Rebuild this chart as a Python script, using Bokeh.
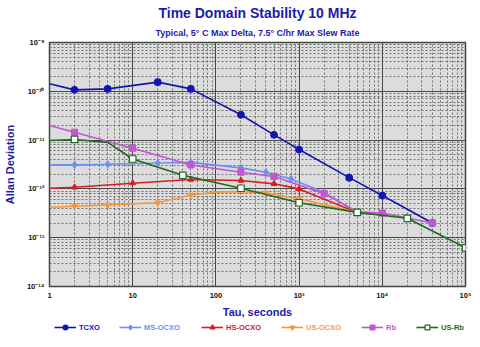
from bokeh.plotting import figure
from bokeh.layouts import column
from bokeh.models import (Range1d, Title, Legend, LegendItem, CustomJSTickFormatter, LogTicker)
from bokeh.embed import file_html
from bokeh.resources import INLINE

# ---- data ----
tcxo_tau = [1, 2, 5, 20, 50, 200, 500, 1000, 4000, 10000, 40000]
tcxo_adev = [1.43e-10, 1.07e-10, 1.12e-10, 1.54e-10, 1.12e-10, 3.3e-11, 1.28e-11, 6.4e-12, 1.7e-12, 7.3e-13, 2.0e-13]
tcxo_marked = [1, 2, 3, 4, 5, 6, 7, 8, 9, 10]

ms_tau = [1, 2, 5, 20, 50, 200, 400, 800, 2000, 5000]
ms_adev = [3.1e-12, 3.1e-12, 3.2e-12, 3.4e-12, 3.5e-12, 2.7e-12, 2.2e-12, 1.6e-12, 8.5e-13, 3.3e-13]
ms_marked = [1, 2, 3, 4, 5, 6, 7, 8]

hs_tau = [1, 2, 10, 50, 200, 500, 1000, 5000]
hs_adev = [1.03e-12, 1.08e-12, 1.31e-12, 1.56e-12, 1.49e-12, 1.27e-12, 1.0e-12, 3.3e-13]
hs_marked = [1, 2, 3, 4, 5, 6]

us_tau = [1, 2, 5, 20, 50, 100, 200, 400, 1000, 5000]
us_adev = [4.2e-13, 4.4e-13, 4.7e-13, 5.2e-13, 7.5e-13, 8.6e-13, 8.8e-13, 8.3e-13, 6.3e-13, 3.3e-13]
us_marked = [1, 2, 3, 4, 7, 8]

rb_tau = [1, 2, 10, 50, 200, 500, 2000, 5000, 10000, 40000]
rb_adev = [2.0e-11, 1.45e-11, 6.8e-12, 3.1e-12, 2.2e-12, 1.8e-12, 8.0e-13, 3.4e-13, 3.2e-13, 2.0e-13]
rb_marked = [1, 2, 3, 4, 5, 6, 8, 9]

usrb_tau = [1, 2, 5, 10, 40, 200, 1000, 5000, 20000, 100000]
usrb_adev = [9.8e-12, 1.03e-11, 9.0e-12, 4.1e-12, 1.9e-12, 1.03e-12, 5.2e-13, 3.3e-13, 2.5e-13, 6.2e-14]
usrb_marked = [1, 3, 4, 5, 6, 7, 8, 9]

series_names = ["TCXO", "MS-OCXO", "HS-OCXO", "US-OCXO", "Rb", "US-Rb"]

FONT = "Liberation Sans"
TITLE_BLUE = "#1c1ca6"

p = figure(width=480, height=320, x_axis_type="log", y_axis_type="log",
           x_range=Range1d(1, 1e5), y_range=Range1d(1e-14, 1e-9),
           output_backend="svg", toolbar_location=None,
           min_border_left=48, min_border_right=15, min_border_top=42, min_border_bottom=30)
p.background_fill_color = "#dcdcdc"
p.border_fill_color = "white"
p.outline_line_color = "#3c4a3c"
p.outline_line_width = 1.5

p.add_layout(Title(text="Typical, 5\u00b0 C Max Delta, 7.5\u00b0 C/hr Max Slew Rate",
                   align="center", text_font=FONT, text_font_style="bold",
                   text_font_size="9px", text_color=TITLE_BLUE, standoff=10), "above")
p.add_layout(Title(text="Time Domain Stability 10 MHz", align="center", text_font=FONT,
                   text_font_style="bold", text_font_size="14px", text_color=TITLE_BLUE,
                   standoff=0), "above")

fmt = CustomJSTickFormatter(code="""
const e = Math.round(Math.log10(tick));
const sup = {"-":"\u207b","0":"\u2070","1":"\u00b9","2":"\u00b2","3":"\u00b3","4":"\u2074","5":"\u2075","6":"\u2076","7":"\u2077","8":"\u2078","9":"\u2079"};
if (e >= 0 && e <= 2) { return String(Math.round(Math.pow(10, e))); }
return "10" + String(e).split("").map(c => sup[c]).join("");
""")

for ax in (p.xaxis[0], p.yaxis[0]):
    ax.ticker = LogTicker(desired_num_ticks=6, num_minor_ticks=10)
    ax.formatter = fmt
    ax.major_label_text_font = FONT
    ax.major_label_text_font_style = "bold"
    ax.major_label_text_font_size = "7.5px"
    ax.major_label_text_color = "#111111"
    ax.axis_line_color = None
    ax.major_tick_line_color = None
    ax.minor_tick_line_color = None
    ax.major_tick_out = 0
    ax.minor_tick_out = 0
    ax.axis_label_text_font = FONT
    ax.axis_label_text_font_style = "bold"
    ax.axis_label_text_font_size = "11px"
    ax.axis_label_text_color = TITLE_BLUE

p.xaxis.axis_label = "Tau, seconds"
p.yaxis.axis_label = "Allan Deviation"
p.xaxis.major_label_standoff = 4
p.yaxis.major_label_standoff = 5
p.xaxis.axis_label_standoff = 3
p.yaxis.axis_label_standoff = 8

for g in (p.xgrid[0], p.ygrid[0]):
    g.grid_line_color = "#4a4a4a"
    g.grid_line_width = 1
    g.minor_grid_line_color = "#555555"
    g.minor_grid_line_dash = "2 2"
    g.minor_grid_line_width = 0.8

styles = [
    (tcxo_tau, tcxo_adev, tcxo_marked, "#1414b4", "circle", 6.5, "#1414b4"),
    (ms_tau, ms_adev, ms_marked, "#6f8ff0", "diamond", 6.5, "#6f8ff0"),
    (hs_tau, hs_adev, hs_marked, "#d42020", "triangle", 5.5, "#d42020"),
    (us_tau, us_adev, us_marked, "#f5983a", "inverted_triangle", 5.5, "#f5983a"),
    (rb_tau, rb_adev, rb_marked, "#c455d0", "square", 6, "#c455d0"),
    (usrb_tau, usrb_adev, usrb_marked, "#1f6a1f", "square", 6.5, "white"),
]

# legend strip below the chart (its frame is aligned with the chart frame by the column)
lf = figure(width=480, height=27, output_backend="svg", toolbar_location=None,
            x_axis_location=None, y_axis_location=None,
            x_range=Range1d(0, 1), y_range=Range1d(0, 1),
            min_border_left=48, min_border_right=15, min_border_top=0, min_border_bottom=0)
lf.outline_line_color = None
lf.background_fill_color = "white"
lf.border_fill_color = "white"
lf.xgrid.visible = False
lf.ygrid.visible = False

legend_x = [5, 70, 152, 232, 312, 367]
for (tau, adev, marked, color, marker, size, fill), name, lx in zip(styles, series_names, legend_x):
    p.line(tau, adev, line_color=color, line_width=1.6)
    p.scatter([tau[i] for i in marked], [adev[i] for i in marked], marker=marker,
              size=size, fill_color=fill, line_color=color, line_width=1.2)
    # off-screen stand-ins so the legend can draw each series' swatch
    dl = lf.line([5, 6], [5, 5], line_color=color, line_width=1.6)
    dm = lf.scatter([5], [5], marker=marker, size=size, fill_color=fill,
                    line_color=color, line_width=1.2)
    leg = Legend(items=[LegendItem(label=name, renderers=[dl, dm])],
                 location=(lx, 14), orientation="horizontal",
                 padding=0, margin=0, spacing=0, label_standoff=3,
                 glyph_width=22, glyph_height=12, border_line_color=None,
                 background_fill_alpha=0, label_text_font=FONT,
                 label_text_font_style="bold", label_text_font_size="7.5px",
                 label_text_color=color, label_height=12)
    lf.add_layout(leg, "center")

layout = column(p, lf, spacing=0)
open("out.html", "w").write(file_html(layout, INLINE))
